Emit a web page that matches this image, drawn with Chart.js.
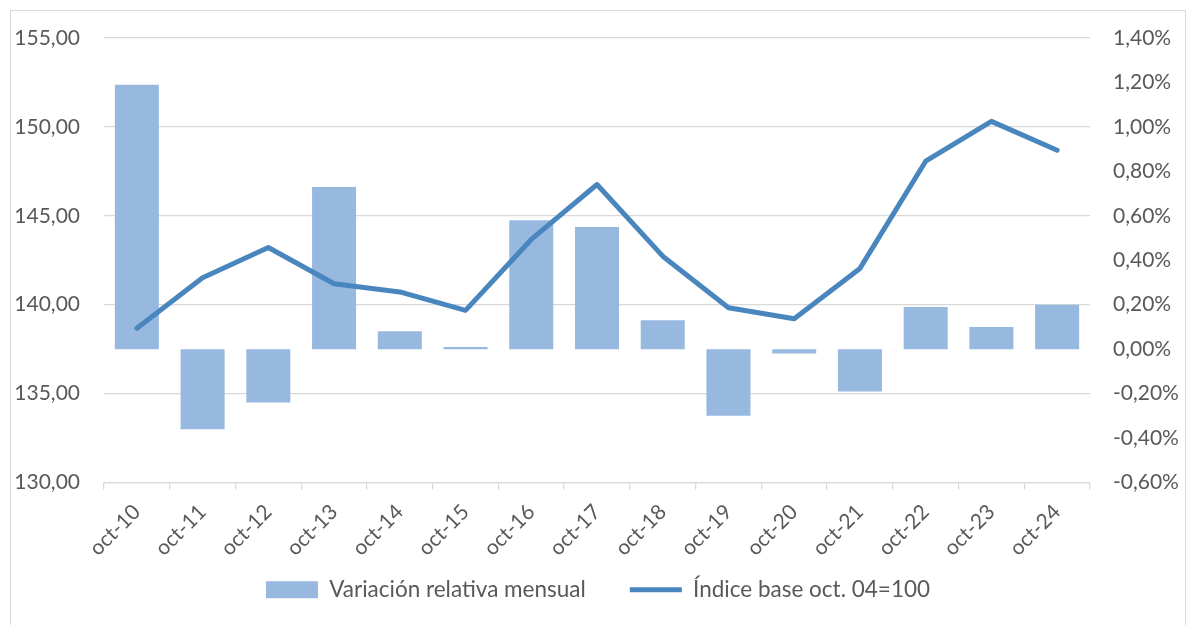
<!DOCTYPE html>
<html>
<head>
<meta charset="utf-8">
<script src="https://cdn.jsdelivr.net/npm/chart.js@4.4.1/dist/chart.umd.min.js"></script>
<style>
  html, body { margin: 0; padding: 0; background: #ffffff; overflow: hidden; }
  #frame { position: absolute; left: 10px; top: 10px; width: 1174px; height: 630px; border: 1px solid #d9d9d9; background: #fff; }
  #wrap { position: absolute; left: 0; top: 0; width: 1174px; height: 614px; }
</style>
</head>
<body>
<div id="frame"><div id="wrap"><canvas id="c"></canvas></div></div>
<script>
const categories = ['oct-10','oct-11','oct-12','oct-13','oct-14','oct-15','oct-16','oct-17','oct-18','oct-19','oct-20','oct-21','oct-22','oct-23','oct-24'];
const variacionMensual = [1.19, -0.36, -0.24, 0.73, 0.08, 0.01, 0.58, 0.55, 0.13, -0.30, -0.02, -0.19, 0.19, 0.10, 0.20];
const indiceBase = [138.67, 141.52, 143.22, 141.18, 140.72, 139.68, 143.67, 146.76, 142.73, 139.83, 139.21, 142.04, 148.07, 150.31, 148.69];
const seriesNames = ['Variación relativa mensual', 'Índice base oct. 04=100'];

const FONT = { family: 'Lato, "Open Sans", sans-serif', size: 21 };
const LEGEND_FONT = { family: 'Lato, "Open Sans", sans-serif', size: 22.5 };
const TEXT = '#595959';
const GRID = '#d9d9d9';

Chart.defaults.font = FONT;
Chart.defaults.color = TEXT;

// let rotated category labels overflow their scale box instead of being clipped
const noLabelClip = {
  id: 'noLabelClip',
  afterLayout(chart) {
    const sx = chart.scales.x;
    if (sx) sx._computeLabelArea = () => undefined;
  }
};

const fitY = (w) => (s) => { s.width = w; s.paddingTop = 0; s.paddingBottom = 0; };

new Chart(document.getElementById('c'), {
  data: {
    labels: categories,
    datasets: [
      {
        type: 'bar',
        label: seriesNames[0],
        data: variacionMensual,
        yAxisID: 'yR',
        backgroundColor: '#98b9df',
        borderWidth: 0,
        categoryPercentage: 1,
        barPercentage: 0.67,
        order: 1,
        pointStyle: 'rect'
      },
      {
        type: 'line',
        label: seriesNames[1],
        data: indiceBase,
        yAxisID: 'yL',
        borderColor: '#4a86be',
        backgroundColor: '#4a86be',
        borderWidth: 5,
        pointRadius: 0,
        tension: 0,
        borderCapStyle: 'round',
        borderJoinStyle: 'round',
        order: 0,
        pointStyle: 'line'
      }
    ]
  },
  plugins: [noLabelClip],
  options: {
    responsive: true,
    maintainAspectRatio: false,
    animation: false,
    layout: { padding: { top: 27, bottom: 14, left: 0, right: 0 } },
    plugins: {
      tooltip: { enabled: false },
      legend: {
        position: 'bottom',
        labels: {
          usePointStyle: true,
          pointStyleWidth: 52,
          boxHeight: 17,
          padding: 44,
          color: TEXT,
          font: LEGEND_FONT,
          sort: (a, b) => a.datasetIndex - b.datasetIndex
        }
      }
    },
    scales: {
      x: {
        offset: true,
        grid: { drawOnChartArea: false, drawTicks: true, tickLength: 7, color: GRID, lineWidth: 1.3, offset: true },
        border: { display: true, color: GRID, width: 1.3 },
        ticks: { minRotation: 45, maxRotation: 45, padding: 10, color: TEXT, font: FONT, autoSkip: false },
        afterFit: (s) => { s.height = 52; }
      },
      yL: {
        type: 'linear',
        position: 'left',
        min: 130,
        max: 155,
        ticks: { stepSize: 5, padding: 24, color: TEXT, font: FONT,
          callback: (v) => v.toFixed(2).replace('.', ',') },
        grid: { color: GRID, lineWidth: 1.3, drawTicks: false },
        border: { display: false },
        afterFit: fitY(93)
      },
      yR: {
        type: 'linear',
        position: 'right',
        min: -0.6,
        max: 1.4,
        ticks: { stepSize: 0.2, padding: 23, color: TEXT, font: FONT,
          callback: (v) => (Math.abs(v) < 1e-9 ? 0 : v).toFixed(2).replace('.', ',') + '%' },
        grid: { display: false, drawTicks: false },
        border: { display: false },
        afterFit: fitY(95)
      }
    }
  }
});
</script>
</body>
</html>
